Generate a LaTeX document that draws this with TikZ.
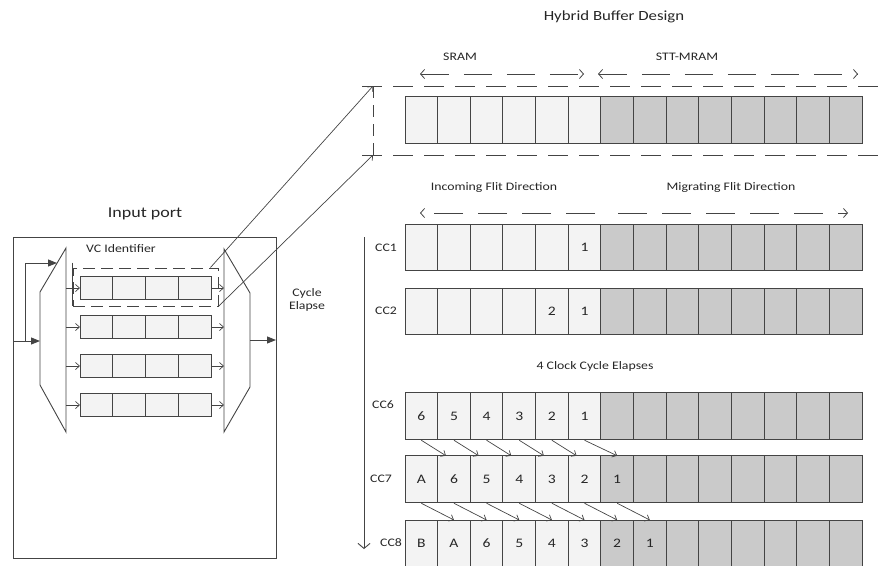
\documentclass[tikz,border=0pt]{standalone}
\usepackage{fontspec}
\setmainfont[FakeStretch=1.2]{Carlito}
\usetikzlibrary{arrows.meta}
\definecolor{linec}{HTML}{444444}
\definecolor{textc}{HTML}{262626}
\definecolor{lightc}{HTML}{F3F3F3}
\definecolor{darkc}{HTML}{CACACA}
\newcommand\lblfont{\fontsize{11.5}{13}\selectfont}
\newcommand\numfont{\fontsize{13}{15}\selectfont}
\newcommand\ttlfont{\fontsize{14}{16}\selectfont}
\newcommand\inpfont{\fontsize{15}{17}\selectfont}
\tikzset{
  ln/.style={draw=linec, line width=0.9pt},
  cell/.style={draw=linec, line width=0.9pt, minimum width=32.64pt, minimum height=46.5pt, inner sep=0pt, outer sep=0pt},
  fcell/.style={draw=linec, fill=lightc, line width=0.9pt, minimum width=32.75pt, minimum height=23pt, inner sep=0pt, outer sep=0pt},
  num/.style={text=textc, font=\numfont, inner sep=0pt},
  lbl/.style={text=textc, font=\lblfont, inner sep=0pt},
  openarr/.style={draw=linec, line width=0.7pt, -{Straight Barb[length=4pt,width=7pt]}},
  timearr/.style={draw=linec, line width=0.9pt, -{Straight Barb[length=5pt,width=12pt]}},
  bigarr/.style={draw=linec, line width=0.9pt, -{Triangle[length=9pt,width=7pt]}},
  dasharr/.style={draw=linec, line width=0.8pt, dash pattern=on 28pt off 15pt, {Straight Barb[length=4pt,width=9pt]}-{Straight Barb[length=4pt,width=9pt]}},
  dashln/.style={draw=linec, line width=0.8pt, dash pattern=on 20pt off 11pt},
}
\newcommand\cellrow[2]{%
  \foreach \k in {1,...,14}{%
    \pgfmathsetmacro\cx{405+(\k-0.5)*32.643}%
    \ifnum\k<7 \def\fc{lightc}\else\def\fc{darkc}\fi
    \node[cell, fill=\fc] (#1\k) at (\cx,#2) {};
  }%
}
\begin{document}
\begin{tikzpicture}[x=1pt,y=-1pt]
\useasboundingbox (0,0) rectangle (888,565);

% ---------- titles ----------
\node[text=textc, font=\ttlfont, inner sep=0pt] (title) at (614,17) {Hybrid Buffer Design};
\node[lbl] (sram) at (460,57) {SRAM};
\node[lbl] (stt) at (687,57) {STT-MRAM};
\coordinate (s1) at (420,74); \coordinate (s2) at (584,74);
\coordinate (m1) at (598,74); \coordinate (m2) at (858,74);
\draw[dasharr] (s1) -- (s2);
\draw[dasharr] (m1) -- (m2);

% ---------- top buffer ----------
\coordinate (hl1) at (362,86); \coordinate (hr1) at (888,86);
\coordinate (hl2) at (362,155); \coordinate (hr2) at (888,155);
\draw[dashln] (hl1) -- (hr1);
\draw[dashln] (hl2) -- (hr2);
\coordinate (vt) at (373,86); \coordinate (vb) at (373,155);
\draw[draw=linec, line width=0.8pt, dash pattern=on 12pt off 7pt] (vt) -- (vb);
\cellrow{t}{120}

% ---------- flit directions ----------
\node[lbl] (inc) at (494,187) {Incoming Flit Direction};
\node[lbl] (mig) at (731,187) {Migrating Flit Direction};
\coordinate (d1) at (595,213); \coordinate (d2) at (420,213);
\coordinate (d3) at (618,213); \coordinate (d4) at (848,213);
\draw[draw=linec, line width=0.8pt, dash pattern=on 29pt off 15pt, -{Straight Barb[length=4pt,width=9pt]}] (d1) -- (d2);
\draw[draw=linec, line width=0.8pt, dash pattern=on 29pt off 15pt, -{Straight Barb[length=4pt,width=9pt]}] (d3) -- (d4);

% ---------- clock cycle rows ----------
\coordinate (tt) at (364,237); \coordinate (tb) at (364,549);
\draw[timearr] (tt) -- (tb);

\cellrow{a}{247.5}
\node[lbl] (cc1) at (386,248) {CC1};
\node[num] at (a6) {1};

\cellrow{b}{311.5}
\node[lbl] (cc2) at (386,311) {CC2};
\node[num] at (b5) {2};
\node[num] at (b6) {1};

\node[lbl] (elapse) at (595,366) {4 Clock Cycle Elapses};

\cellrow{f}{416}
\node[lbl] (cc6) at (383,405) {CC6};
\foreach \k/\t in {1/6,2/5,3/4,4/3,5/2,6/1}{\node[num] at (f\k) {\t};}

\cellrow{g}{479}
\node[lbl] (cc7) at (381,479) {CC7};
\foreach \k/\t in {1/A,2/6,3/5,4/4,5/3,6/2,7/1}{\node[num] at (g\k) {\t};}

\cellrow{h}{543.25}
\node[lbl] (cc8) at (391,543) {CC8};
\foreach \k/\t in {1/B,2/A,3/6,4/5,5/4,6/3,7/2,8/1}{\node[num] at (h\k) {\t};}

\foreach \k [evaluate=\k as \n using int(\k+1)] in {1,...,5}{
  \draw[openarr] ([yshift=-1pt]f\k.south) -- ([xshift=-8pt]g\n.north);
}
\draw[openarr] ([yshift=-1pt]f6.south) -- (g7.north);
\foreach \k [evaluate=\k as \n using int(\k+1)] in {1,...,7}{
  \draw[openarr] ([yshift=-1pt]g\k.south) -- (h\n.north);
}

% ---------- input port ----------
\node[text=textc, font=\inpfont, inner sep=0pt] (inport) at (145,214) {Input port};
\node[draw=linec, line width=0.9pt, minimum width=263pt, minimum height=321pt, inner sep=0pt] (port) at (144.5,397.5) {};
\node[lbl] (vcid) at (121,249) {VC Identifier};

% muxes
\draw[ln] (66,248) -- (40,292) -- (40,385) -- (66,432) -- cycle;
\draw[ln] (224,249) -- (250,293) -- (250,387) -- (224,432) -- cycle;

% FIFOs
\foreach \i/\yc in {1/288,2/327,3/366,4/405}{
  \foreach \j in {1,...,4}{
    \pgfmathsetmacro\fx{80+(\j-0.5)*32.75}
    \node[fcell] (q\i-\j) at (\fx,\yc) {};
  }
  \coordinate (mi\i) at (66,\yc);
  \coordinate (mo\i) at (224,\yc);
  \draw[openarr] (mi\i) -- (q\i-1.west);
  \draw[openarr] (q\i-4.east) -- (mo\i);
}

% dashed selection box
\node[draw=linec, line width=0.8pt, dash pattern=on 12pt off 6pt, minimum width=145pt, minimum height=38pt, inner sep=0pt] (dbox) at (145.5,287) {};
\draw[ln] ([yshift=5pt]dbox.north west) -- (dbox.south west);

% input / feedback / output arrows
\coordinate (in) at (13,341); \coordinate (muxin) at (40,341);
\coordinate (fb) at (25,341);
\coordinate (fbtop) at (25,263); \coordinate (muxfb) at (57,263);
\draw[bigarr] (in) -- (muxin);
\draw[bigarr] (fb) -- (fbtop) -- (muxfb);
\coordinate (muxout) at (250,340); \coordinate (out) at (276,340);
\draw[bigarr] (muxout) -- (out);
\node[lbl, align=center] (cyc) at (307,300) {Cycle\\Elapse};

% links to hybrid buffer
\draw[openarr] ([xshift=-8pt]dbox.north east) -- (vt);
\draw[openarr] (dbox.south east) -- (vb);
\end{tikzpicture}
\end{document}
